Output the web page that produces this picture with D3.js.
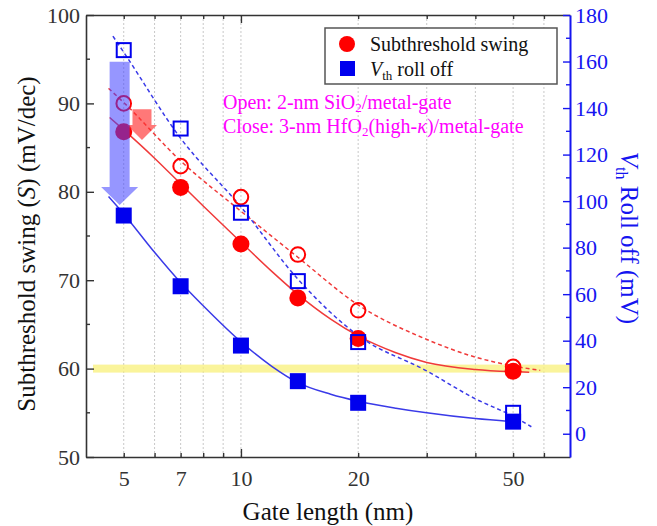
<!DOCTYPE html>
<html><head><meta charset="utf-8">
<script src="https://cdn.jsdelivr.net/npm/d3@7"></script>
<style>
body{margin:0;background:#fff}
svg text{font-family:"Liberation Serif","Times New Roman",Times,Tinos,"DejaVu Serif","Noto Serif",serif !important}
</style>
</head><body>
<svg id="c" width="657" height="526"></svg>
<script>
// ---- data ----
const gateLength = [5, 7, 10, 14, 20, 50];
const ssClose  = [86.8, 80.5, 74.1, 68.0, 63.4, 59.7];   // filled circles (HfO2)
const ssOpen   = [90.0, 82.9, 79.4, 72.9, 66.6, 60.2];   // open circles (SiO2)
const vthClose = [93.8, 63.4, 37.9, 22.6, 13.3, 5.2];    // filled squares
const vthOpen  = [164.9, 131.2, 95.0, 65.6, 39.4, 9.0];  // open squares

// fit curves
const fitSsCloseX = [4.6, 5, 6, 7, 8, 10, 12, 14, 17, 20, 25, 30, 40, 55];
const fitSsCloseY = [88.4, 87.0, 83.8, 80.9, 78.4, 74.3, 71.0, 68.4, 65.6, 63.7, 61.8, 60.7, 59.9, 59.6];
const fitSsOpenX  = [4.57, 5, 7, 10, 14, 20, 30, 40, 50, 58.7];
const fitSsOpenY  = [91.7, 90.1, 83.5, 77.8, 72.6, 67.2, 63.3, 61.3, 60.3, 59.8];
const fitVthOpenX = [4.69, 5, 7, 10, 14, 20, 30, 40, 50, 55.7];
const fitVthOpenY = [170.9, 164.0, 127.0, 97.5, 66.5, 42.2, 27.0, 15.0, 7.5, 3.0];
const fitVthCloseX = [4.57, 5, 6, 7, 8, 10, 12, 14, 17, 20, 25, 30, 40, 52];
const fitVthCloseY = [102.0, 94.5, 78.0, 65.0, 55.0, 39.5, 29.0, 22.0, 17.0, 14.0, 11.0, 9.0, 6.5, 5.0];

const xLabelTicks = [5, 7, 10, 20, 50];
const xGridTicks = [5, 6, 7, 8, 9, 10, 20, 30, 40, 50, 60];
const xMajorTicks = [10];
const yLeftMajor = [50, 60, 70, 80, 90, 100];
const yLeftMinor = [55, 65, 75, 85, 95];
const yRightMajor = [0, 20, 40, 60, 80, 100, 120, 140, 160, 180];
const yRightMinor = [10, 30, 50, 70, 90, 110, 130, 150, 170];
const sLimit = 60;

// ---- layout ----
const FONT = '"Liberation Serif","Times New Roman",Times,Tinos,"DejaVu Serif",serif';
const L = 86, R = 570, T = 15, B = 457;
const svg = d3.select("#c");
const x = d3.scaleLog().domain([4, 70]).range([L, R]);
const yL = d3.scaleLinear().domain([50, 100]).range([B, T]);
const yR = d3.scaleLinear().domain([-10, 180]).range([B, T]);

const RED = "#ff0000", BLUE = "#0000ee", MAG = "#ff00ff";

// grid
svg.append("g").selectAll("line").data(xGridTicks).join("line")
  .attr("x1", d => x(d)).attr("x2", d => x(d)).attr("y1", T).attr("y2", B)
  .attr("stroke", "#c8c8c8").attr("stroke-width", 1).attr("stroke-dasharray", "2,2");

// yellow band at 60 mV/dec
svg.append("rect").attr("x", L + 7).attr("width", R - L - 7)
  .attr("y", yL(sLimit + 0.45)).attr("height", yL(sLimit - 0.45) - yL(sLimit + 0.45))
  .attr("fill", "#f8f07a").attr("opacity", 0.75);

// axes
function styleAxis(g, color) {
  g.attr("font-family", FONT);
  g.select(".domain").attr("stroke", color).attr("stroke-width", 1.6);
  g.selectAll(".tick line").attr("stroke", color).attr("stroke-width", 1.4);
  g.selectAll(".tick text").attr("fill", color).attr("font-family", FONT).attr("font-size", 22);
}
const gx = svg.append("g").attr("transform", `translate(0,${B})`)
  .call(d3.axisBottom(x).tickValues(xGridTicks).tickSizeInner(-4).tickSizeOuter(0).tickPadding(13)
    .tickFormat(d => xLabelTicks.includes(d) ? d : ""));
gx.selectAll(".tick line").filter(d => xMajorTicks.includes(d)).attr("y2", -8);
styleAxis(gx, "#333");
const gxt = svg.append("g").attr("transform", `translate(0,${T})`)
  .call(d3.axisTop(x).tickValues(xGridTicks).tickSizeInner(-4).tickSizeOuter(0).tickFormat(""));
gxt.selectAll(".tick line").filter(d => xMajorTicks.includes(d)).attr("y2", 8);
styleAxis(gxt, "#333");

const gyl = svg.append("g").attr("transform", `translate(${L},0)`)
  .call(d3.axisLeft(yL).tickValues(yLeftMajor).tickSizeInner(-8).tickSizeOuter(0).tickPadding(6));
gyl.append("g").selectAll("line").data(yLeftMinor).join("line")
  .attr("x1", 0).attr("x2", 4).attr("y1", d => yL(d)).attr("y2", d => yL(d));
styleAxis(gyl, "#333");
gyl.selectAll("g > line").attr("stroke", "#333").attr("stroke-width", 1.4);

const gyr = svg.append("g").attr("transform", `translate(${R},0)`)
  .call(d3.axisRight(yR).tickValues(yRightMajor).tickSizeInner(-7).tickSizeOuter(0).tickPadding(5));
gyr.append("g").selectAll("line").data(yRightMinor).join("line")
  .attr("x1", 0).attr("x2", -4).attr("y1", d => yR(d)).attr("y2", d => yR(d));
styleAxis(gyr, "#1515f0");
gyr.selectAll("g > line").attr("stroke", "#1515f0").attr("stroke-width", 1.4);
gyr.select(".domain").attr("stroke-width", 2);

// axis titles
svg.append("text").attr("x", (L + R) / 2).attr("y", 520).attr("text-anchor", "middle")
  .attr("font-family", FONT).attr("font-size", 25).attr("fill", "#111").text("Gate length (nm)");
const tl = svg.append("text").attr("transform", "translate(35,244) rotate(-90)")
  .attr("text-anchor", "middle").attr("font-family", FONT).attr("font-size", 25).attr("fill", "#111");
tl.append("tspan").text("Subthreshold swing (");
tl.append("tspan").attr("font-style", "italic").text("S");
tl.append("tspan").text(") (mV/dec)");
const tr = svg.append("text").attr("transform", "translate(621,238) rotate(90)")
  .attr("text-anchor", "middle").attr("font-family", FONT).attr("font-size", 25).attr("fill", "#1515f0");
tr.append("tspan").attr("font-style", "italic").text("V");
tr.append("tspan").attr("font-size", 16).attr("dy", 5).text("th");
tr.append("tspan").attr("dy", -5).text(" Roll off (mV)");

// fit lines
function fitLine(xs, ys, yScale, color, dash) {
  const pts = xs.map((d, i) => [x(d), yScale(ys[i])]);
  svg.append("path").attr("d", d3.line().curve(d3.curveMonotoneX)(pts))
    .attr("fill", "none").attr("stroke", color).attr("stroke-width", 1.5)
    .attr("stroke-dasharray", dash ? "4,3" : null);
}
fitLine(fitSsCloseX, fitSsCloseY, yL, "#f03a3a", false);
fitLine(fitSsOpenX, fitSsOpenY, yL, "#f03a3a", true);
fitLine(fitVthCloseX, fitVthCloseY, yR, "#3a3ae8", false);
fitLine(fitVthOpenX, fitVthOpenY, yR, "#3a3ae8", true);

// markers
svg.append("g").selectAll("circle").data(gateLength).join("circle")
  .attr("cx", d => x(d)).attr("cy", (d, i) => yL(ssClose[i])).attr("r", 8.5).attr("fill", RED);
svg.append("g").selectAll("circle").data(gateLength).join("circle")
  .attr("cx", d => x(d)).attr("cy", (d, i) => yL(ssOpen[i])).attr("r", 7.3)
  .attr("fill", "none").attr("stroke", RED).attr("stroke-width", 2);
svg.append("g").selectAll("rect").data(gateLength).join("rect")
  .attr("x", d => x(d) - 8).attr("y", (d, i) => yR(vthClose[i]) - 8).attr("width", 16).attr("height", 16)
  .attr("fill", BLUE);
svg.append("g").selectAll("rect").data(gateLength).join("rect")
  .attr("x", d => x(d) - 7).attr("y", (d, i) => yR(vthOpen[i]) - 7).attr("width", 14).attr("height", 14)
  .attr("fill", "none").attr("stroke", BLUE).attr("stroke-width", 2);

// arrows
function arrow(xv, yTopV, yTipV, shaftHalf, headHalf, headLen, color, op) {
  const cx = x(xv), yt = yL(yTopV), yp = yL(yTipV), yh = yp - headLen;
  const p = d3.path();
  p.moveTo(cx - shaftHalf, yt); p.lineTo(cx + shaftHalf, yt); p.lineTo(cx + shaftHalf, yh);
  p.lineTo(cx + headHalf, yh); p.lineTo(cx, yp); p.lineTo(cx - headHalf, yh);
  p.lineTo(cx - shaftHalf, yh); p.closePath();
  svg.append("path").attr("d", p.toString()).attr("fill", color).attr("opacity", op);
}
arrow(5.57, 89.35, 85.85, 9.5, 15, 15, "#ff3030", 0.65);
arrow(4.88, 94.7, 78.5, 10, 18.5, 18, "#4040ff", 0.55);

// legend
const lg = svg.append("g").attr("font-family", FONT);
lg.append("rect").attr("x", 325).attr("y", 28).attr("width", 232).attr("height", 56)
  .attr("fill", "#fff").attr("stroke", "#555").attr("stroke-width", 1.5);
lg.append("circle").attr("cx", 347).attr("cy", 44).attr("r", 8).attr("fill", RED);
lg.append("text").attr("x", 370).attr("y", 51).attr("font-size", 20).attr("fill", "#111").text("Subthreshold swing");
lg.append("rect").attr("x", 340).attr("y", 61).attr("width", 15).attr("height", 15).attr("fill", BLUE);
const lt = lg.append("text").attr("x", 370).attr("y", 76).attr("font-size", 20).attr("fill", "#111");
lt.append("tspan").attr("font-style", "italic").text("V");
lt.append("tspan").attr("font-size", 13).attr("dy", 4).text("th");
lt.append("tspan").attr("dy", -4).text(" roll off");

// annotation
const a1 = svg.append("text").attr("x", 223).attr("y", 109).attr("font-family", FONT).attr("font-size", 20).attr("fill", MAG);
a1.append("tspan").text("Open: 2-nm SiO");
a1.append("tspan").attr("font-size", 13).attr("dy", 3).text("2");
a1.append("tspan").attr("dy", -3).text("/metal-gate");
const a2 = svg.append("text").attr("x", 223).attr("y", 133).attr("font-family", FONT).attr("font-size", 20).attr("fill", MAG);
a2.append("tspan").text("Close: 3-nm HfO");
a2.append("tspan").attr("font-size", 13).attr("dy", 3).text("2");
a2.append("tspan").attr("dy", -3).text("(high-");
a2.append("tspan").attr("font-style", "italic").text("κ");
a2.append("tspan").text(")/metal-gate");
</script>
</body></html>
